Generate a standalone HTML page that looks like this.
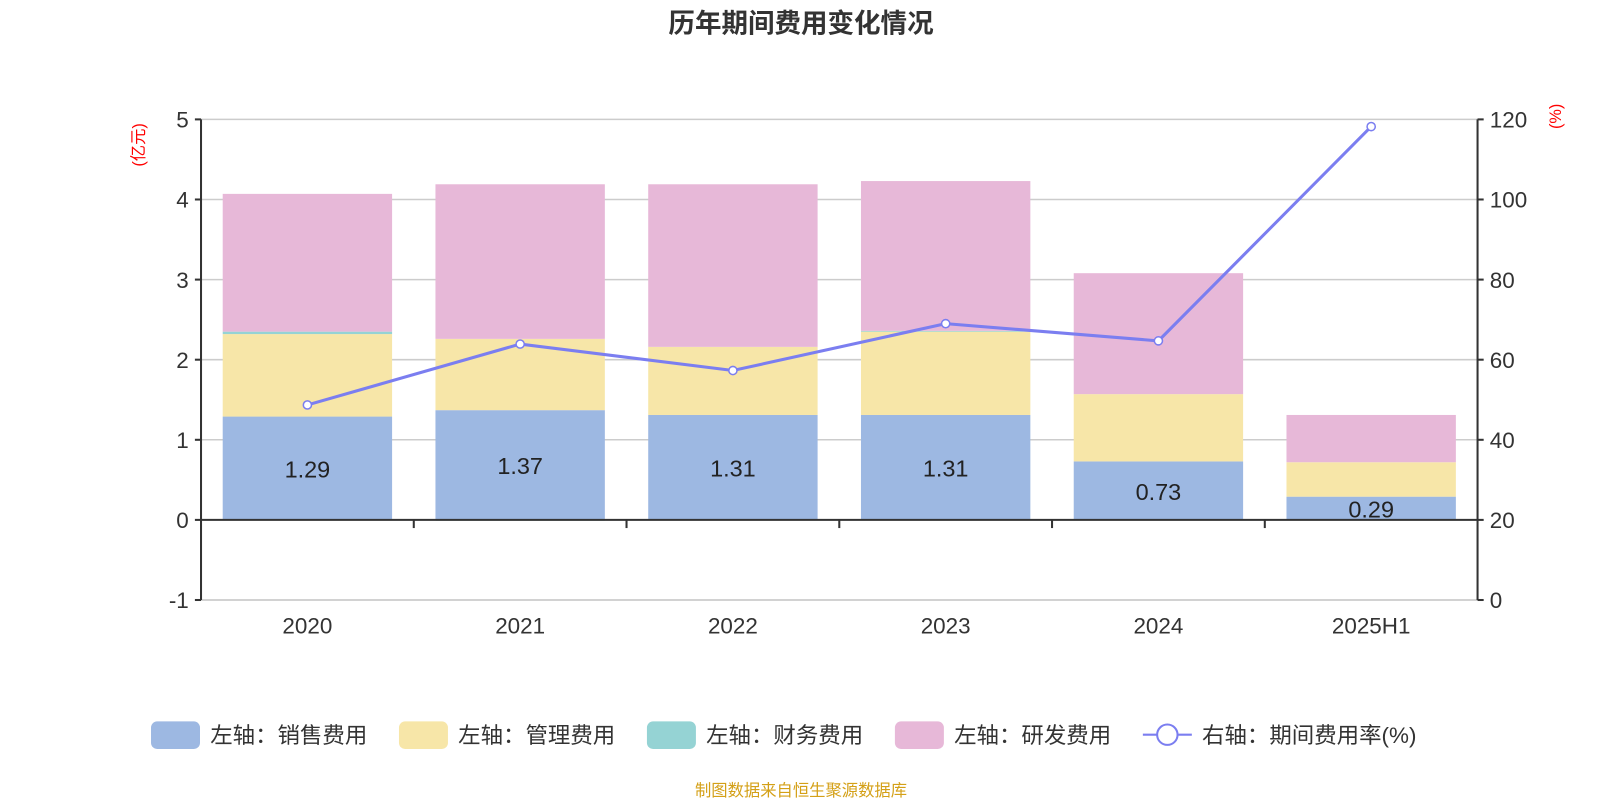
<!DOCTYPE html>
<html><head><meta charset="utf-8"><style>
body{margin:0;background:#fff;width:1600px;height:800px;overflow:hidden;font-family:"Liberation Sans","Noto Sans CJK SC",sans-serif}
</style></head><body>
<svg id="c" width="1600" height="800" viewBox="0 0 1568 784" xmlns="http://www.w3.org/2000/svg" font-family="Liberation Sans, Noto Sans CJK SC, sans-serif"></svg>
<script>
const categories=["2020","2021","2022","2023","2024","2025H1"];
const sales=[1.29,1.37,1.31,1.31,0.73,0.29];
const admin=[1.03,0.89,0.85,1.04,0.84,0.43];
const finance=[0.03,-0.01,0.00,0.01,0.00,0.00];
const rnd=[1.72,1.93,2.03,1.87,1.51,0.59];
const rate=[48.7,63.9,57.3,69.0,64.7,118.2];
const leftTicks=[-1,0,1,2,3,4,5];
const rightTicks=[0,20,40,60,80,100,120];
const svg=document.getElementById('c');
const NS='http://www.w3.org/2000/svg';
function mk(t,a,p){const e=document.createElementNS(NS,t);for(const k in a)e.setAttribute(k,a[k]);(p||svg).appendChild(e);return e;}
const X0=197,X1=1448,YT=117,YB=588;
const yL=v=>YB-(v+1)/6*(YB-YT);
const yR=v=>YB-v/120*(YB-YT);
const band=(X1-X0)/categories.length;
const xC=i=>X0+band*(i+0.5);
const BW=166;
let t=mk('text',{x:785,y:32,'text-anchor':'middle','font-size':26,'font-weight':'bold',fill:'#333'});t.textContent='历年期间费用变化情况';

leftTicks.forEach(v=>{const y=yL(v);
 if(v!==0){const g=mk('line',{x1:X0,x2:X1,y1:y,y2:y,stroke:'#ccc','stroke-width':1.5});}
 mk('line',{x1:X0-6,x2:X0,y1:y,y2:y,stroke:'#333','stroke-width':2});
 const l=mk('text',{x:X0-12,y:y+8,'text-anchor':'end','font-size':22,fill:'#333'});l.textContent=v;
 });
rightTicks.forEach(v=>{const y=yR(v);
 mk('line',{x1:X1,x2:X1+6,y1:y,y2:y,stroke:'#333','stroke-width':2});
 const l=mk('text',{x:X1+12,y:y+8,'font-size':22,fill:'#333'});l.textContent=v;
 });
let u=mk('text',{x:0,y:0,'font-size':16,fill:'red','text-anchor':'middle',transform:`translate(141,142) rotate(-90)`});u.textContent='(亿元)';

u=mk('text',{x:0,y:0,'font-size':16,fill:'red','text-anchor':'middle',transform:`translate(1530,114) rotate(-90)`});u.textContent='(%)';

const series=[[sales,'#9db8e2','sales'],[admin,'#f7e6a8','admin'],[finance,'#95d3d4','finance'],[rnd,'#e7b8d8','rnd']];
let pos=categories.map(()=>0),neg=categories.map(()=>0);
series.forEach(([arr,col,nm])=>{arr.forEach((v,i)=>{let a,b;
 if(v>=0){a=pos[i];b=pos[i]+v;pos[i]=b;}else{a=neg[i];b=neg[i]+v;neg[i]=b;}
 const y1=yL(Math.max(a,b)),y2=yL(Math.min(a,b));
 const r=mk('rect',{x:xC(i)-BW/2,y:y1,width:BW,height:Math.max(y2-y1,0),fill:col});
 });});
sales.forEach((v,i)=>{const l=mk('text',{x:xC(i),y:(yL(0)+yL(v))/2+9,'text-anchor':'middle','font-size':23,fill:'#222'});l.textContent=v.toFixed(2);
 });
mk('line',{x1:X0,x2:X1,y1:YB,y2:YB,stroke:'#ccc','stroke-width':1.5});
let ax=mk('line',{x1:X0,x2:X1,y1:yL(0),y2:yL(0),stroke:'#333','stroke-width':2});
for(let i=1;i<categories.length;i++){mk('line',{x1:X0+band*i,x2:X0+band*i,y1:yL(0),y2:yL(0)+8,stroke:'#333','stroke-width':2});}
mk('line',{x1:X0,x2:X0,y1:YT,y2:YB,stroke:'#333','stroke-width':2});
mk('line',{x1:X1,x2:X1,y1:YT,y2:YB,stroke:'#333','stroke-width':2});
categories.forEach((c,i)=>{const l=mk('text',{x:xC(i),y:621,'text-anchor':'middle','font-size':22,fill:'#333'});l.textContent=c;
 });
const pl=mk('polyline',{points:rate.map((v,i)=>xC(i)+','+yR(v)).join(' '),fill:'none',stroke:'#7b7ef0','stroke-width':3});

rate.forEach((v,i)=>{const p=mk('circle',{cx:xC(i),cy:yR(v),r:4,fill:'#fff',stroke:'#7b7ef0','stroke-width':1.5});
 });
const leg=[['左轴：销售费用','#9db8e2',148],['左轴：管理费用','#f7e6a8',391],['左轴：财务费用','#95d3d4',634],['左轴：研发费用','#e7b8d8',877]];
leg.forEach(([txt,col,x])=>{const g=mk('g',{});
 mk('rect',{x:x,y:707,width:48,height:27,rx:6,fill:col},g);
 const l=mk('text',{x:x+58,y:728,'font-size':22,fill:'#333'},g);l.textContent=txt;});
const g=mk('g',{});
mk('line',{x1:1120,x2:1168,y1:720,y2:720,stroke:'#7b7ef0','stroke-width':2},g);
mk('circle',{cx:1144,cy:720,r:10,fill:'#fff',stroke:'#7b7ef0','stroke-width':2},g);
let l=mk('text',{x:1178,y:728,'font-size':22,fill:'#333'},g);l.textContent='右轴：期间费用率(%)';
l=mk('text',{x:785,y:780,'text-anchor':'middle','font-size':16,fill:'#d4a017'});l.textContent='制图数据来自恒生聚源数据库';

</script></body></html>
